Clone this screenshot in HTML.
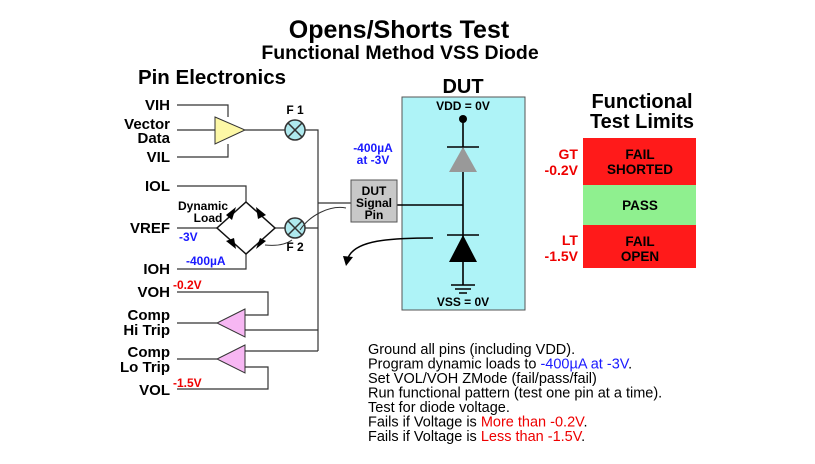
<!DOCTYPE html><html><head><style>body{margin:0;background:#fff}svg{display:block;font-family:"Liberation Sans",Arial,sans-serif}</style></head><body>
<svg width="815" height="464" viewBox="0 0 815 464" xmlns="http://www.w3.org/2000/svg">
<text x="399" y="38" font-size="25" font-weight="bold" text-anchor="middle">Opens/Shorts Test</text>
<text x="400" y="59" font-size="19.5" font-weight="bold" text-anchor="middle">Functional Method VSS Diode</text>
<text x="212" y="84" font-size="20.5" font-weight="bold" text-anchor="middle">Pin Electronics</text>
<text x="463" y="93" font-size="20" font-weight="bold" text-anchor="middle">DUT</text>
<text x="642" y="108" font-size="20" font-weight="bold" text-anchor="middle">Functional</text>
<text x="642" y="128" font-size="20" font-weight="bold" text-anchor="middle">Test Limits</text>
<rect x="402" y="97" width="123" height="213" fill="#aef3f7" stroke="#555"/>
<g stroke="#333" stroke-width="1.2" fill="none">
<path d="M177 105H228V117M177 130H215M177 157H228V144M245 130H285M305 130H318V351"/>
<path d="M177 186H246V202M177 228H217M275 228H285M305 228H318M177 269H246V254M318 203H351"/>
<path d="M177 292H268V315H245M245 330H318M245 351H318M177 389H268V367H245M177 323H217M177 359H217"/>
</g>
<path d="M397 205H463M463 119V285" stroke="#000" stroke-width="1.6"/>
<polygon points="215,117 245,130 215,144" fill="#fdf8a6" stroke="#333"/>
<polygon points="245,309 217,323 245,337" fill="#f7b7f3" stroke="#333"/>
<polygon points="245,345 217,359 245,373" fill="#f7b7f3" stroke="#333"/>
<polygon points="246,202 275,228 246,254 217,228" fill="none" stroke="#111" stroke-width="1.5"/>
<g fill="#000"><polygon points="226,215 236,207 232,220"/><polygon points="256,207 266,215 258,219"/><polygon points="226,241 236,249 234,238"/><polygon points="256,249 266,241 260,238"/></g>
<g fill="#aee9ee" stroke="#333" stroke-width="1.5"><circle cx="295" cy="130" r="10"/><circle cx="295" cy="228" r="10"/></g>
<path d="M288 123L302 137M302 123L288 137M288 221L302 235M302 221L288 235" stroke="#333" stroke-width="1.5"/>
<rect x="351" y="180" width="46" height="42" fill="#c8c8c8" stroke="#555"/>
<path d="M346 208C330 205 310 215 300 230M292 240C285 245 275 246 265 245" stroke="#333" fill="none"/>
<circle cx="463" cy="119" r="4" fill="#000"/>
<path d="M447 147H479M447 235H479M451 285H475M455 289H471M459 293H467" stroke="#000" stroke-width="1.5"/>
<polygon points="463,147 449,172 477,172" fill="#999"/>
<polygon points="463,235 449,262 477,262" fill="#000"/>
<path d="M433 238C390 238 355 240 348 258" stroke="#000" stroke-width="1.5" fill="none"/>
<polygon points="343,256 353,257 346,266" fill="#000"/>
<g font-weight="bold" font-size="15" text-anchor="end">
<text x="170" y="110">VIH</text><text x="170" y="129">Vector</text><text x="170" y="143">Data</text><text x="170" y="162">VIL</text>
<text x="170" y="191">IOL</text><text x="170" y="233">VREF</text><text x="170" y="274">IOH</text>
<text x="170" y="297">VOH</text><text x="170" y="320">Comp</text><text x="170" y="335">Hi Trip</text>
<text x="170" y="357">Comp</text><text x="170" y="372">Lo Trip</text><text x="170" y="395">VOL</text>
</g>
<g font-weight="bold" font-size="12">
<text x="203" y="210" text-anchor="middle">Dynamic</text><text x="208" y="222" text-anchor="middle">Load</text>
<text x="295" y="114" text-anchor="middle">F 1</text><text x="295" y="251" text-anchor="middle">F 2</text>
<text x="374" y="195" text-anchor="middle">DUT</text><text x="374" y="207" text-anchor="middle">Signal</text><text x="374" y="219" text-anchor="middle">Pin</text>
<text x="463" y="110" text-anchor="middle">VDD = 0V</text><text x="463" y="306" text-anchor="middle">VSS = 0V</text>
</g>
<g font-weight="bold" font-size="12" fill="#1a1aff">
<text x="179" y="241">-3V</text><text x="186" y="265">-400µA</text>
<text x="373" y="152" text-anchor="middle">-400µA</text><text x="373" y="164" text-anchor="middle">at -3V</text>
</g>
<g font-weight="bold" font-size="12" fill="#e00">
<text x="173" y="289">-0.2V</text><text x="173" y="387">-1.5V</text>
</g>
<rect x="583" y="138" width="113" height="47" fill="#ff1a1a"/>
<rect x="583" y="185" width="113" height="40" fill="#8ff08f"/>
<rect x="583" y="225" width="113" height="43" fill="#ff1a1a"/>
<g font-weight="bold" font-size="13.5" text-anchor="middle">
<text x="640" y="159">FAIL</text><text x="640" y="174">SHORTED</text><text x="640" y="210">PASS</text>
<text x="640" y="246">FAIL</text><text x="640" y="261">OPEN</text></g>
<g font-weight="bold" font-size="14" fill="#e00" text-anchor="end">
<text x="578" y="159">GT</text><text x="578" y="175">-0.2V</text><text x="578" y="245">LT</text><text x="578" y="261">-1.5V</text></g>
<g font-size="14.5">
<text x="368" y="354">Ground all pins (including VDD).</text>
<text x="368" y="368.5">Program dynamic loads to <tspan fill="#1a1aff">-400µA at -3V</tspan>.</text>
<text x="368" y="383">Set VOL/VOH ZMode (fail/pass/fail)</text>
<text x="368" y="397.5">Run functional pattern (test one pin at a time).</text>
<text x="368" y="412">Test for diode voltage.</text>
<text x="368" y="426.5">Fails if Voltage is <tspan fill="#e00">More than -0.2V</tspan>.</text>
<text x="368" y="441">Fails if Voltage is <tspan fill="#e00">Less than -1.5V</tspan>.</text>
</g>
</svg></body></html>
